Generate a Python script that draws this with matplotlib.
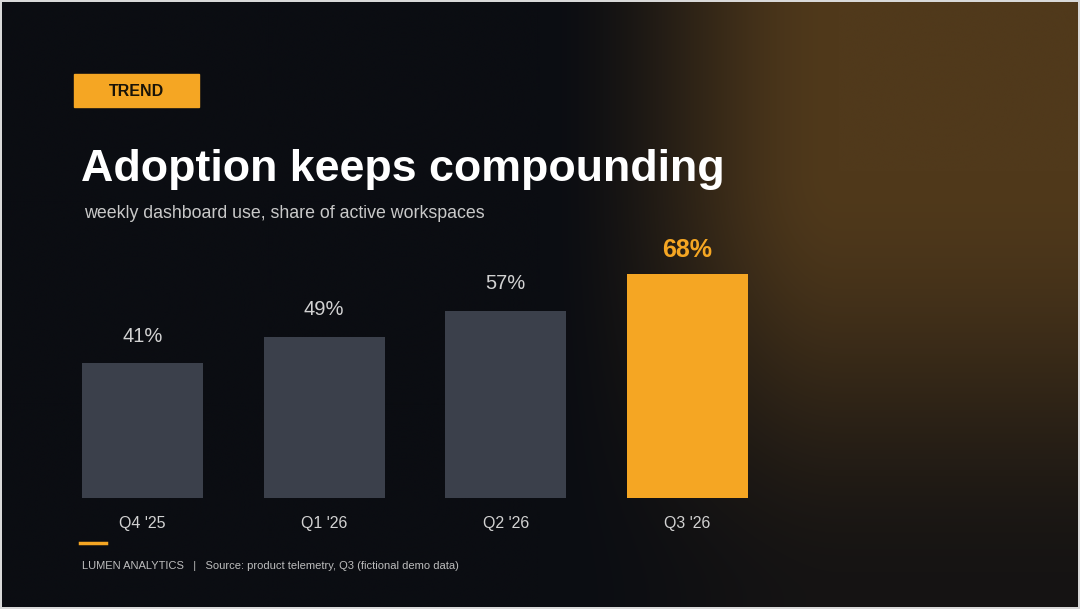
import matplotlib.pyplot as plt
import numpy as np
from matplotlib.patches import Rectangle

plt.rcParams['font.family'] = ['Liberation Sans', 'DejaVu Sans']

quarters = ["Q4 '25", "Q1 '26", "Q2 '26", "Q3 '26"]
share = [41, 49, 57, 68]
highlight = 3

W, H = 1080, 609
fig = plt.figure(figsize=(W / 100, H / 100), dpi=100)
fig.patch.set_facecolor('#d9d9d9')


def smooth(u):
    u = np.clip(u, 0, 1)
    return u * u * (3 - 2 * u)


# background with warm glow from the top right
bg = fig.add_axes([0.002, 0.003, 0.996, 0.994])
yy, xx = np.mgrid[0:H, 0:W]
fx = smooth((xx - 540) / 300.0)
fy = 1 - 0.85 * smooth((yy - 170) / 430.0)
t = fx * fy
dark = np.array([11, 13, 18]) / 255
warm = np.array([80, 57, 27]) / 255
img = dark[None, None, :] * (1 - t[..., None]) + warm[None, None, :] * t[..., None]
bg.imshow(img, aspect='auto', extent=(0, W, H, 0))
bg.set_xlim(0, W)
bg.set_ylim(H, 0)
bg.axis('off')

# tag
fig.patches.append(Rectangle((74 / W, 1 - 107 / H), 125 / W, 33 / H,
                             transform=fig.transFigure, color='#f5a623'))
fig.text(136.5 / W, 1 - 91 / H, 'TREND', color='#1a1408', fontsize=11.5,
         fontweight='bold', ha='center', va='center')

fig.text(81 / W, 1 - 181 / H, 'Adoption keeps compounding', color='white',
         fontsize=32.2, fontweight='bold', ha='left', va='baseline')
fig.text(84 / W, 1 - 218 / H, 'weekly dashboard use, share of active workspaces',
         color='#c9c9c9', fontsize=12.8, ha='left', va='baseline')

# bars
ax = fig.add_axes([82 / W, 1 - 498 / H, 666 / W, 263 / H])
ax.set_facecolor('none')
x = np.arange(len(quarters))
colors = ['#f5a623' if i == highlight else '#3b404b' for i in x]
ax.bar(x, share, width=0.667, color=colors)
ax.set_xlim(-0.3333, 3.3333)
ax.set_ylim(0, 80)
for i, v in enumerate(share):
    if i == highlight:
        ax.text(i, v + 7.3, f'{v}%', color='#f5a623', fontsize=18,
                fontweight='bold', ha='center', va='center')
    else:
        ax.text(i, v + 8.2, f'{v}%', color='#d2d2d2', fontsize=14.5,
                ha='center', va='center')
ax.set_xticks(x)
ax.set_xticklabels(quarters, color='#d2d2d2', fontsize=11.5)
ax.tick_params(axis='x', length=0, pad=13)
ax.set_yticks([])
for s in ax.spines.values():
    s.set_visible(False)

# footer
fig.lines.append(plt.Line2D([80 / W, 106 / W], [1 - 543 / H, 1 - 543 / H],
                            transform=fig.transFigure, color='#f5a623', lw=2.5))
fig.text(82 / W, 1 - 566 / H,
         'LUMEN ANALYTICS   |   Source: product telemetry, Q3 (fictional demo data)',
         color='#bdbdbd', fontsize=8, ha='left', va='center')

fig.savefig('out.png', dpi=100, facecolor=fig.get_facecolor())
